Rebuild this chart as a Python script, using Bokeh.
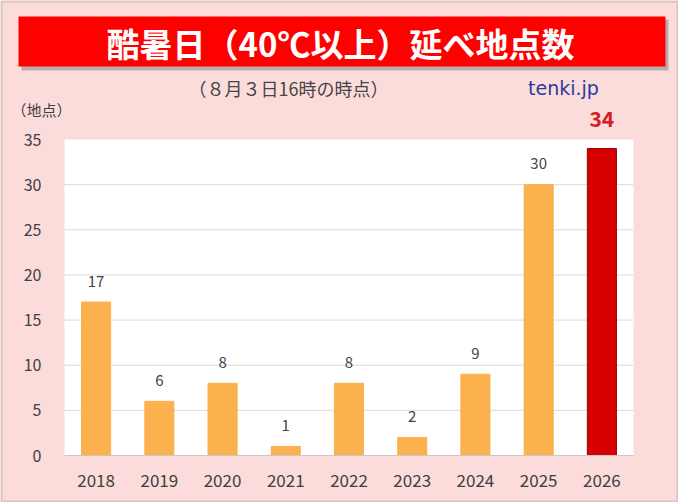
from bokeh.plotting import figure
from bokeh.models import ColumnDataSource, Label, LabelSet, BoxAnnotation, Range1d, FixedTicker
from bokeh.core.properties import value
from bokeh.embed import file_html
from bokeh.resources import INLINE

# ---- data ----
years = ["2018", "2019", "2020", "2021", "2022", "2023", "2024", "2025", "2026"]
counts = [17, 6, 8, 1, 8, 2, 9, 30, 34]
y_ticks = [0, 5, 10, 15, 20, 25, 30, 35]
title_text = "酷暑日（40℃以上）延べ地点数"
subtitle_text = "（８月３日16時の時点）"
unit_text = "（地点）"
brand_text = "tenki.jp"

# ---- layout / style ----
W, H = 678, 502
PLOT_L, PLOT_R, PLOT_T, PLOT_B = 64, 633, 139, 455
FONT = "Noto Sans CJK JP"
PINK = "#fbdcdb"
PAST = "#fab14e"
NOW = "#d60000"

n = len(years)
xu = (PLOT_R - PLOT_L) / n
x_start = -0.5 - PLOT_L / xu
x_end = n - 0.5 + (W - PLOT_R) / xu
ymax = y_ticks[-1]
yu = (PLOT_B - PLOT_T) / ymax
y_start = -(H - PLOT_B) / yu
y_end = ymax + PLOT_T / yu

xs = list(range(n))
colors = [PAST] * (n - 1) + [NOW]
lines = [PAST] * (n - 1) + ["#a00000"]

src = ColumnDataSource(dict(x=xs, count=counts, fill=colors, line=lines))
src_past = ColumnDataSource(dict(x=xs[:-1], count=counts[:-1], lab=[str(c) for c in counts[:-1]]))
src_now = ColumnDataSource(dict(x=xs[-1:], count=counts[-1:], lab=[str(c) for c in counts[-1:]]))

p = figure(x_range=Range1d(x_start, x_end), y_range=Range1d(y_start, y_end),
           width=W, height=H, output_backend="svg", toolbar_location=None, title=None,
           min_border_left=0, min_border_right=0, min_border_top=0, min_border_bottom=0,
           background_fill_color=PINK, border_fill_color=PINK, outline_line_color=None)

# plot area
p.quad(left=[-0.5], right=[n - 0.5], bottom=[0], top=[ymax], fill_color="white", line_color=None)

# gridlines at the tick values
grid_vals = y_ticks[1:-1]
p.segment(x0=[-0.5] * len(grid_vals), x1=[n - 0.5] * len(grid_vals), y0=grid_vals, y1=grid_vals,
          line_color="#dadada", line_width=1)

p.vbar(x="x", top="count", width=0.46, source=src, fill_color="fill", line_color="line", line_width=1)

p.xgrid.visible = False
p.ygrid.visible = False

# axes
p.yaxis.fixed_location = -0.5
p.yaxis.ticker = FixedTicker(ticks=y_ticks)
p.yaxis.axis_line_color = None
p.yaxis.major_tick_line_color = None
p.yaxis.minor_tick_line_color = None
p.yaxis.major_label_text_font = FONT
p.yaxis.major_label_text_font_size = "16px"
p.yaxis.major_label_text_color = "#404040"
p.yaxis.major_label_standoff = 17

p.xaxis.fixed_location = 0
p.xaxis.bounds = (-0.5, n - 0.5)
p.xaxis.ticker = FixedTicker(ticks=xs)
p.xaxis.major_label_overrides = {i: y for i, y in zip(xs, years)}
p.xaxis.axis_line_color = "#c8c8c8"
p.xaxis.axis_line_width = 1
p.xaxis.major_tick_line_color = None
p.xaxis.minor_tick_line_color = None
p.xaxis.major_label_text_font = FONT
p.xaxis.major_label_text_font_size = "17px"
p.xaxis.major_label_text_color = "#404040"
p.xaxis.major_label_standoff = 12

# value labels
p.add_layout(LabelSet(x="x", y="count", text="lab", source=src_past, y_offset=21,
                      text_align="center", text_baseline="middle", text_font=value(FONT),
                      text_font_size="15px", text_color="#444444"))
p.add_layout(LabelSet(x="x", y="count", text="lab", source=src_now, y_offset=30,
                      text_align="center", text_baseline="middle", text_font=value(FONT),
                      text_font_size="21px", text_font_style="bold", text_color="#d02020"))

# decorations (screen units: sx = X, sy = H - Y)
def box(l, r, t, b, **kw):
    return BoxAnnotation(left=l, right=r, bottom=H - b, top=H - t, left_units="screen",
                         right_units="screen", bottom_units="screen", top_units="screen", **kw)

p.add_layout(box(1, W - 1, 1, H - 1, fill_alpha=0, line_color="#8e8e80", line_width=2))
p.add_layout(box(21, 668, 19, 70, fill_color="#8c8c8c", fill_alpha=0.6, line_alpha=0))
p.add_layout(box(18, 665, 16, 66, fill_color="#ff0000", fill_alpha=1, line_alpha=0))

def lab(x, y, text, **kw):
    return Label(x=x, y=H - y, x_units="screen", y_units="screen", text=text,
                 text_align="center", text_baseline="middle", **kw)

p.add_layout(lab(340, 42, title_text, text_font=FONT, text_font_size="33px",
                 text_font_style="bold", text_color="white"))
p.add_layout(lab(288, 87, subtitle_text, text_font=FONT, text_font_size="18px", text_color="#454545"))
p.add_layout(lab(563, 87, brand_text, text_font="DejaVu Sans", text_font_size="19px", text_color="#2b3a9c"))
p.add_layout(lab(41, 109, unit_text, text_font=FONT, text_font_size="15px", text_color="#404040"))

open("out.html", "w").write(file_html(p, INLINE))
